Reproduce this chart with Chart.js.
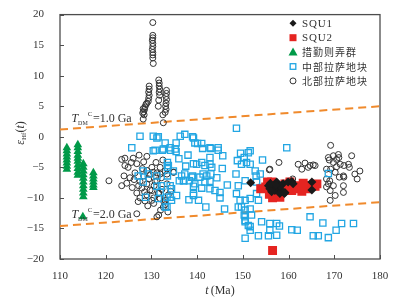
<!DOCTYPE html>
<html>
<head>
<meta charset="utf-8">
<script src="https://cdn.jsdelivr.net/npm/chart.js@4.4.0/dist/chart.umd.min.js"></script>
<style>
  html, body { margin: 0; padding: 0; background: #fff; }
  #wrap { width: 398px; height: 302px; position: relative; }
</style>
</head>
<body>
<div id="wrap"><canvas id="hfChart"></canvas></div>
<script>
// axis ticks
var xTickValues = [110, 120, 130, 140, 150, 160, 170, 180];
var yTickValues = [-20, -15, -10, -5, 0, 5, 10, 15, 20];

var seriesNames = ["SQU1", "SQU2", "措勤则弄群", "中部拉萨地块", "北部拉萨地块"];

// [t (Ma), eHf(t)]
var squ1 = [
  [151.7, -7.5], [155.6, -8.0], [155.9, -8.5], [156.7, -8.0], [157.0, -8.8], [157.8, -8.3],
  [157.4, -7.4], [158.8, -7.7], [159.9, -7.4], [160.7, -7.3], [161.0, -7.7], [158.5, -8.8],
  [158.1, -9.3], [156.3, -9.0], [165.1, -7.4], [165.1, -8.7], [159.2, -9.1], [158.1, -8.1],
  [159.1, -9.3], [157.2, -7.9], [156.0, -7.6]
];

var squ2 = [
  [153.9, -8.5], [155.4, -7.4], [156.3, -7.4], [157.9, -9.6], [158.1, -9.9], [159.9, -8.3],
  [161.4, -8.5], [162.5, -8.0], [163.6, -8.0], [164.7, -8.0], [165.8, -8.1], [160.7, -8.8],
  [156.5, -10.0], [161.8, -8.3], [164.0, -8.5], [160.3, -7.4], [159.2, -7.7], [156.5, -18.6],
  [157.0, -8.0], [155.0, -8.2], [162.9, -8.9], [163.2, -7.6], [166.2, -7.7], [155.8, -9.4]
];

var cuoqin = [
  [111.5, -1.8], [111.5, -2.3], [111.5, -2.8], [111.5, -3.3], [111.5, -3.8], [111.5, -4.3],
  [111.5, -4.8], [111.5, -5.3],
  [113.9, -1.3], [113.9, -1.8], [113.9, -2.4], [113.9, -3.0], [113.9, -3.5], [113.9, -4.0],
  [113.9, -4.6], [113.9, -5.2], [113.9, -5.8], [113.9, -6.3],
  [115.1, -4.4], [115.1, -5.0], [115.1, -5.6], [115.1, -6.2], [115.1, -6.8], [115.1, -7.4],
  [115.1, -8.0], [115.1, -8.6], [115.1, -9.2], [115.1, -9.8], [115.0, -13.1],
  [117.3, -5.9], [117.3, -6.4], [117.3, -6.9], [117.3, -7.4], [117.3, -7.9], [117.3, -8.3]
];

var centralLhasa = [
  [127.5, 0.1], [130.4, 0.1], [131.2, -0.2], [131.5, 0.0], [125.7, -1.8], [132.6, -2.0],
  [134.1, -1.8], [135.2, -2.0], [136.3, 0.1], [137.3, 0.4], [139.2, -0.2], [139.5, -1.0],
  [130.8, -2.2], [133.0, -1.0], [135.4, -1.0], [139.0, 0.0], [140.1, -1.1], [141.0, -1.1],
  [141.2, -1.9], [143.0, -1.9], [144.6, -2.2], [145.6, -3.1], [142.8, -3.4], [132.4, -2.2],
  [134.2, -2.2], [135.4, -2.4], [133.5, -4.2], [133.5, -5.0], [139.2, -4.4], [141.0, -4.2],
  [141.7, -4.7], [142.8, -4.5], [143.2, -5.0], [141.3, -6.1], [142.1, -6.4], [143.0, -6.1],
  [137.3, -6.1], [136.1, -7.2], [137.1, -7.2], [138.3, -7.2], [139.0, -6.4], [140.6, -6.6],
  [141.7, -7.4], [142.8, -7.3], [139.2, -8.1], [141.0, -8.4], [142.8, -8.5], [143.9, -8.8],
  [145.0, -9.1], [139.2, -9.6], [141.9, -11.5], [145.0, -10.0], [134.1, -8.0], [134.4, -8.5],
  [135.5, -9.6], [134.4, -10.4], [133.0, -11.5], [133.4, -9.9], [132.2, -8.0], [131.9, -9.1],
  [133.5, -6.4], [130.4, -2.3], [127.1, -6.4], [128.2, -5.6], [129.3, -6.1], [131.2, -6.4],
  [128.2, -7.4], [128.7, -9.9], [131.2, -8.1], [131.5, -10.1], [133.7, -4.7], [134.1, -9.9],
  [133.4, -11.5], [136.6, -6.4], [137.0, -7.2], [138.8, -6.6], [139.5, -7.7], [139.9, -4.5],
  [139.2, -9.3], [134.8, -5.6], [136.0, -3.6], [138.0, -3.0], [137.5, -4.8], [144.3, -6.7],
  [145.5, -5.2], [146.6, -7.9], [138.2, -10.3], [140.3, -10.4], [146.0, -11.8],
  [148.6, 1.4], [149.5, -2.7], [151.2, -2.6], [148.8, -3.9], [149.7, -4.5], [150.8, -4.2],
  [148.5, -6.1], [149.0, -8.0], [148.6, -9.3], [149.4, -10.4], [149.7, -11.5], [150.5, -12.0],
  [150.5, -13.1], [150.5, -13.9], [151.2, -14.5], [151.6, -15.3], [150.5, -10.4], [142.8, -1.8],
  [144.6, -1.8], [159.6, -1.8], [151.6, -2.3], [150.3, -3.4], [151.6, -4.5], [154.3, -3.8],
  [152.7, -5.6], [152.9, -6.4], [153.8, -6.1], [150.5, -7.2], [153.0, -7.4], [154.1, -8.3],
  [151.6, -10.1], [153.0, -9.3], [153.4, -10.4], [149.0, -11.5], [151.6, -11.8], [150.3, -12.8],
  [151.9, -12.8], [154.1, -13.9], [150.5, -13.7], [151.6, -14.7], [150.5, -16.6], [153.4, -16.2],
  [155.9, -14.2], [157.4, -14.2], [158.0, -14.6], [155.9, -15.3], [157.4, -16.1], [155.6, -16.2],
  [160.7, -15.2], [161.9, -15.3], [164.7, -13.1], [167.5, -14.1], [165.4, -16.2], [166.5, -16.2],
  [168.7, -16.5], [170.4, -15.3], [171.6, -14.2], [174.2, -14.2], [168.7, -6.0]
];

var northLhasa = [
  [130.3, 18.7], [130.3, 16.6], [130.3, 16.2], [130.2, 15.8], [130.3, 15.3], [130.3, 14.8],
  [130.2, 14.3], [130.3, 13.8], [130.3, 13.4], [130.3, 12.9], [130.4, 12.0],
  [129.5, 8.3], [129.5, 7.8], [129.4, 7.3], [129.5, 6.8], [129.4, 6.3], [129.3, 5.8],
  [129.0, 5.5], [128.8, 5.3], [128.6, 4.9], [128.5, 4.5], [128.3, 4.1], [128.4, 3.6],
  [128.2, 4.6], [128.1, 3.9], [128.2, 2.9],
  [131.6, 9.3], [131.7, 8.8], [131.7, 8.3], [131.8, 7.8], [131.7, 7.3], [131.8, 6.8],
  [131.6, 6.0], [131.5, 5.0], [132.5, 3.6], [132.6, 2.3],
  [133.3, 7.6], [133.3, 7.1], [133.2, 6.6], [133.3, 6.1], [133.2, 5.5], [133.1, 5.0],
  [133.2, 4.5], [133.0, 4.0],
  [120.7, -7.2], [123.5, -8.0], [124.2, -3.5], [126.0, -3.5], [127.3, -3.0], [124.9, -5.0],
  [126.8, -4.4], [128.3, -4.1], [124.0, -6.4], [125.3, -6.7], [126.4, -5.9], [127.5, -7.3],
  [124.6, -7.6], [129.0, -5.5], [130.1, -5.0], [131.2, -5.9], [131.9, -5.0], [133.4, -6.1],
  [134.8, -5.8], [126.8, -9.2], [127.5, -10.0], [127.1, -10.6], [129.0, -9.5], [129.7, -8.7],
  [130.5, -10.0], [131.6, -9.2], [132.7, -10.6], [133.0, -11.1], [131.6, -12.8], [126.8, -12.6],
  [129.0, -7.7], [130.8, -7.3], [130.1, -10.4], [133.4, -7.7], [133.7, -9.5], [128.3, -6.4],
  [129.4, -6.9], [132.2, -6.7], [130.4, -5.8], [131.9, -6.1], [133.0, -5.6], [134.9, -5.8],
  [131.2, -7.2], [130.1, -8.8], [131.5, -9.3], [133.0, -10.4], [130.5, -10.9], [132.6, -11.5],
  [131.2, -13.1], [131.9, -10.1], [123.5, -3.7], [124.2, -4.7], [125.6, -4.2], [126.2, -7.0],
  [127.9, -8.4], [128.5, -9.0], [128.0, -5.2], [129.8, -6.2], [130.6, -8.0], [132.3, -8.6],
  [132.0, -12.0], [128.6, -10.5], [127.2, -8.0], [125.8, -8.3], [129.2, -11.3], [134.2, -8.9],
  [133.6, -12.3], [129.0, -3.2], [131.0, -4.2], [132.5, -3.8],
  [155.9, -5.3], [157.9, -4.2], [160.9, -6.9], [162.1, -4.5], [163.6, -4.3], [164.3, -5.0],
  [165.8, -4.7], [162.9, -5.3], [155.8, -5.4], [164.7, -4.7], [165.4, -4.6],
  [169.2, -1.4], [168.7, -3.4], [169.8, -3.1], [170.9, -2.9], [170.5, -3.7], [173.8, -3.1],
  [168.9, -3.8], [169.8, -4.2], [171.3, -4.5], [172.1, -4.7], [173.1, -4.5], [173.3, -5.0],
  [169.2, -5.3], [170.5, -4.9], [168.3, -5.3], [170.2, -5.8], [172.0, -6.4], [174.5, -6.1],
  [175.6, -5.6], [175.0, -6.9], [168.3, -6.9], [169.0, -7.2], [171.1, -6.6], [172.1, -6.6],
  [169.8, -8.0], [168.3, -8.2], [172.0, -8.0], [172.0, -9.1], [169.1, -8.8], [170.2, -9.6],
  [169.1, -10.4], [168.7, -7.7], [171.0, -3.4]
];

// crustal model age reference lines
var tdm10 = [[110, 1.2], [180, 5.0]];
var tdm20 = [[110, -14.6], [180, -10.7]];

function pts(arr) {
  return arr.map(function (p) { return { x: p[0], y: p[1] }; });
}

var serif = "'Liberation Serif', 'Times New Roman', serif";
var cjk = "'Noto Sans CJK SC', sans-serif";

var colors = {
  squ1: "#1a1a1a",
  squ2: "#e52421",
  cuoqin: "#009a48",
  central: "#22a6e3",
  north: "#333333",
  line: "#f08a2c"
};

// draw text made of several styled pieces
function drawRuns(ctx, x, y, runs) {
  runs.forEach(function (r) {
    ctx.font = r.f;
    ctx.fillText(r.t, x, y + (r.dy || 0));
    x += ctx.measureText(r.t).width + (r.gap || 0);
  });
  return x;
}

function runsWidth(ctx, runs) {
  var w = 0;
  runs.forEach(function (r) {
    ctx.font = r.f;
    w += ctx.measureText(r.t).width + (r.gap || 0);
  });
  return w;
}

function legendMarker(ctx, i, x, y) {
  ctx.save();
  ctx.beginPath();
  if (i === 0) {
    ctx.fillStyle = colors.squ1;
    ctx.moveTo(x, y - 3.5); ctx.lineTo(x + 3.5, y); ctx.lineTo(x, y + 3.5); ctx.lineTo(x - 3.5, y);
    ctx.closePath(); ctx.fill();
  } else if (i === 1) {
    ctx.fillStyle = colors.squ2;
    ctx.fillRect(x - 3.5, y - 3.5, 7, 7);
  } else if (i === 2) {
    ctx.fillStyle = colors.cuoqin;
    ctx.moveTo(x, y - 4.5); ctx.lineTo(x + 4.5, y + 3.5); ctx.lineTo(x - 4.5, y + 3.5);
    ctx.closePath(); ctx.fill();
  } else if (i === 3) {
    ctx.strokeStyle = colors.central; ctx.lineWidth = 1.3;
    ctx.strokeRect(x - 2.8, y - 2.8, 5.6, 5.6);
  } else {
    ctx.strokeStyle = colors.north; ctx.lineWidth = 1;
    ctx.arc(x, y, 3, 0, Math.PI * 2); ctx.stroke();
  }
  ctx.restore();
}

var decorPlugin = {
  id: "decor",
  beforeDatasetsDraw: function (chart) {
    var ctx = chart.ctx, a = chart.chartArea, xs = chart.scales.x, ys = chart.scales.y;
    ctx.save();
    ctx.strokeStyle = "#4d4d4d";
    ctx.lineWidth = 1.3;
    ctx.strokeRect(a.left, a.top, a.right - a.left, a.bottom - a.top);
    ctx.beginPath();
    xs.ticks.forEach(function (t) {
      var px = Math.round(xs.getPixelForValue(t.value)) + 0.5;
      ctx.moveTo(px, a.bottom); ctx.lineTo(px, a.bottom - 4);
    });
    ys.ticks.forEach(function (t) {
      var py = Math.round(ys.getPixelForValue(t.value)) + 0.5;
      ctx.moveTo(a.left, py); ctx.lineTo(a.left + 4, py);
    });
    ctx.lineWidth = 1;
    ctx.stroke();
    ctx.restore();
  },
  afterDraw: function (chart) {
    var ctx = chart.ctx, xs = chart.scales.x, ys = chart.scales.y;
    ctx.save();
    ctx.fillStyle = "#333";
    ctx.textBaseline = "alphabetic";
    ctx.textAlign = "left";

    // labels on the model age lines
    var lab1 = [
      { t: "T", f: "italic 12px " + serif },
      { t: "DM", f: "6px " + serif, dy: 3 },
      { t: "C", f: "7px " + serif, dy: -6, gap: 0.5 },
      { t: "=1.0 Ga", f: "12px " + serif }
    ];
    var lab2 = [
      { t: "T", f: "italic 12px " + serif },
      { t: "DM", f: "6px " + serif, dy: 3 },
      { t: "C", f: "7px " + serif, dy: -6, gap: 0.5 },
      { t: "=2.0 Ga", f: "12px " + serif }
    ];
    drawRuns(ctx, xs.getPixelForValue(112.5), ys.getPixelForValue(2.4), lab1);
    drawRuns(ctx, xs.getPixelForValue(112.5), ys.getPixelForValue(-13.3), lab2);

    // x axis title
    var xt = [
      { t: "t", f: "italic 12px " + serif, gap: 2 },
      { t: "(Ma)", f: "12px " + serif }
    ];
    var xc = (xs.left + xs.right) / 2;
    drawRuns(ctx, xc - runsWidth(ctx, xt) / 2, 294, xt);

    // y axis title
    var yt = [
      { t: "ε", f: "italic 12px " + serif },
      { t: "Hf", f: "7px " + serif, dy: 2 },
      { t: "(", f: "12px " + serif },
      { t: "t", f: "italic 12px " + serif },
      { t: ")", f: "12px " + serif }
    ];
    ctx.save();
    ctx.translate(24, 133);
    ctx.rotate(-Math.PI / 2);
    drawRuns(ctx, -runsWidth(ctx, yt) / 2, 0, yt);
    ctx.restore();

    // legend
    ctx.textBaseline = "middle";
    seriesNames.forEach(function (name, i) {
      var y = 23.3 + i * 14.4;
      legendMarker(ctx, i, 293, y);
      ctx.font = i < 2 ? "11px " + serif : "10px " + cjk;
      ctx.letterSpacing = i < 2 ? "0.8px" : "1px";
      ctx.fillText(name, 302, y + 0.5);
    });
    ctx.restore();
  }
};

new Chart(document.getElementById("hfChart"), {
  type: "scatter",
  data: {
    datasets: [
      {
        label: seriesNames[0],
        data: pts(squ1),
        pointStyle: "rectRot",
        pointRadius: 4.5,
        backgroundColor: colors.squ1,
        borderColor: colors.squ1,
        borderWidth: 0
      },
      {
        label: seriesNames[1],
        data: pts(squ2),
        pointStyle: "rect",
        pointRadius: 6.3,
        backgroundColor: colors.squ2,
        borderColor: colors.squ2,
        borderWidth: 0
      },
      {
        label: seriesNames[2],
        data: pts(cuoqin),
        pointStyle: "triangle",
        pointRadius: 5,
        backgroundColor: colors.cuoqin,
        borderColor: colors.cuoqin,
        borderWidth: 0
      },
      {
        label: seriesNames[3],
        data: pts(centralLhasa),
        pointStyle: "rect",
        pointRadius: 4.4,
        backgroundColor: "rgba(0,0,0,0)",
        borderColor: colors.central,
        borderWidth: 1.3
      },
      {
        label: seriesNames[4],
        data: pts(northLhasa),
        pointStyle: "circle",
        pointRadius: 3,
        backgroundColor: "rgba(0,0,0,0)",
        borderColor: colors.north,
        borderWidth: 1
      },
      {
        label: "TDM 1.0 Ga",
        data: pts(tdm10),
        showLine: true,
        pointRadius: 0,
        borderColor: colors.line,
        borderWidth: 2,
        borderDash: [8, 5]
      },
      {
        label: "TDM 2.0 Ga",
        data: pts(tdm20),
        showLine: true,
        pointRadius: 0,
        borderColor: colors.line,
        borderWidth: 2,
        borderDash: [8, 5]
      }
    ]
  },
  options: {
    responsive: true,
    maintainAspectRatio: false,
    animation: false,
    devicePixelRatio: 1,
    layout: { padding: { top: 12, right: 18, left: 0, bottom: 0 } },
    plugins: {
      legend: { display: false },
      tooltip: { enabled: false }
    },
    scales: {
      x: {
        type: "linear",
        min: 110,
        max: 180,
        afterBuildTicks: function (s) {
          s.ticks = xTickValues.map(function (v) { return { value: v }; });
        },
        afterFit: function (s) { s.height = 43; },
        grid: { display: false },
        border: { display: false },
        ticks: {
          padding: 3,
          color: "#333",
          font: { family: serif, size: 11 }
        }
      },
      y: {
        type: "linear",
        min: -20,
        max: 20,
        afterBuildTicks: function (s) {
          s.ticks = yTickValues.map(function (v) { return { value: v }; });
        },
        afterFit: function (s) { s.width = 60; },
        grid: { display: false },
        border: { display: false },
        ticks: {
          padding: 8,
          color: "#333",
          font: { family: serif, size: 11 },
          callback: function (v) { return v < 0 ? "\u2212" + Math.abs(v) : String(v); }
        }
      }
    }
  },
  plugins: [decorPlugin]
});
</script>
</body>
</html>
